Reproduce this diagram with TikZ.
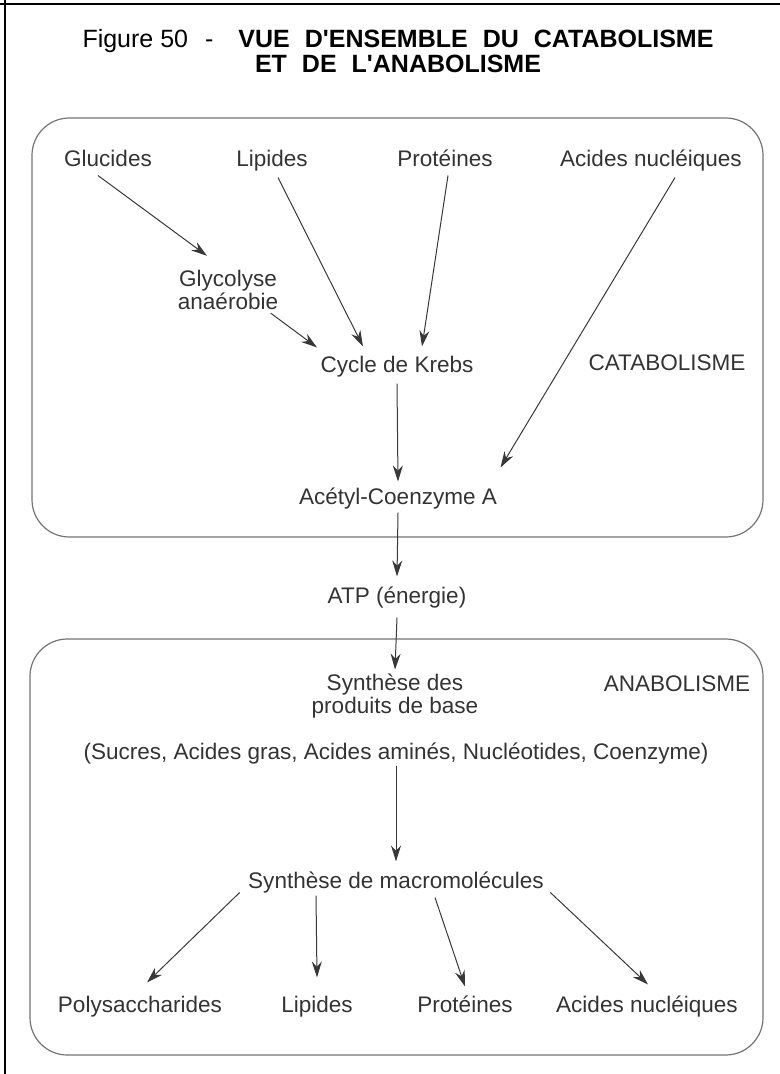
\documentclass[tikz,border=0pt]{standalone}
\usepackage{fontspec}
\setmainfont{Liberation Sans}
\usetikzlibrary{arrows.meta,calc}
\definecolor{ink}{HTML}{333333}
\definecolor{wire}{HTML}{383838}
\newcommand\titlefont{\fontsize{18.75}{18.75}\selectfont}
\newcommand\widebf{\bfseries\spaceskip=.6em\relax}
\newcommand\bodyfont{\fontsize{16.9}{15.75}\selectfont}
\begin{document}
\begin{tikzpicture}[x=0.75pt,y=-0.75pt,>={Stealth[length=12pt,width=7.5pt]},
  lbl/.style={font=\bodyfont, text=ink, inner sep=1pt, text height=12.7pt, text depth=3.7pt},
  lbl2/.style={font=\bodyfont, text=ink, inner sep=1pt, align=center},
  arr/.style={->, draw=wire, line width=.75pt},
  zone/.style={draw=black!55, line width=.9pt, rounded corners=28pt}]
\useasboundingbox (0,0) rectangle (780,1074);
% frame and the two zones
\draw[line width=1.5pt] (0,4) -- (780,4);
\draw[line width=1.5pt] (5,0) -- (5,1074);
\draw[zone] (32,118) rectangle (763,537);
\draw[zone] (30,639) rectangle (763,1055);
\node[font=\titlefont, align=center, inner sep=0pt] (titre) at (398,51) {Figure 50\hspace{.68em}-\hspace{1em}{\widebf VUE D\textquotesingle ENSEMBLE DU CATABOLISME}\\{\widebf ET DE L\textquotesingle ANABOLISME}};
% catabolisme
\node[lbl] (glu) at (108,160) {Glucides};
\node[lbl] (lipA) at (272,160) {Lipides};
\node[lbl] (proA) at (445,160) {Protéines};
\node[lbl] (acA) at (651,160) {Acides nucléiques};
\node[lbl2] (gly) at (228,290) {Glycolyse\\anaérobie};
\node[lbl] (cyc) at (397,366) {Cycle de Krebs};
\node[lbl] (cata) at (667,364) {CATABOLISME};
\node[lbl] (acet) at (398,498) {Acétyl-Coenzyme A};
\node[lbl] (atp) at (397,597) {ATP (énergie)};
% anabolisme
\node[lbl2] (synb) at (395,696) {Synthèse des\\produits de base};
\node[lbl] (ana) at (677,685) {ANABOLISME};
\node[lbl] (suc) at (396,753) {(Sucres, Acides gras, Acides aminés, Nucléotides, Coenzyme)};
\node[lbl] (mac) at (396,882) {Synthèse de macromolécules};
\node[lbl] (pol) at (140,1006) {Polysaccharides};
\node[lbl] (lipB) at (317,1006) {Lipides};
\node[lbl] (proB) at (465,1006) {Protéines};
\node[lbl] (acB) at (647,1006) {Acides nucléiques};
\draw[arr] ($(glu.south)+(-10,3)$) -- ($(gly.north)+(-21,-13)$);
\draw[arr] ($(gly.south east)+(-9,2)$) -- ($(cyc.north west)+(-2,-6)$);
\draw[arr] ($(lipA.south)+(6,5)$) -- ($(cyc.north)+(-34,-7)$);
\draw[arr] ($(proA.south)+(3,3)$) -- ($(cyc.north)+(25,-7)$);
\draw[arr] ($(acA.south)+(24,5)$) -- ($(acet.north east)+(2,-18)$);
\draw[arr] ($(cyc.south)+(0,5)$) -- ($(acet.north)+(0,-4)$);
\draw[arr] ($(acet.south)+(0,2)$) -- ($(atp.north)+(0,-8)$);
\draw[arr] ($(atp.south)+(0,8)$) -- ($(synb.north)+(0,-3)$);
\draw[arr] (suc.south) -- ($(mac.north)+(0,-8)$);
\draw[arr] ($(mac.south west)+(-7,-2)$) -- ($(pol.north)+(7,-11)$);
\draw[arr] ($(mac.south)+(-80,1)$) -- ($(lipB.north)+(0,-16)$);
\draw[arr] ($(mac.south)+(39,3)$) -- ($(proB.north)+(0,-7)$);
\draw[arr] ($(mac.south east)+(5,-2)$) -- ($(acB.north)+(1,-9)$);
\end{tikzpicture}
\end{document}
